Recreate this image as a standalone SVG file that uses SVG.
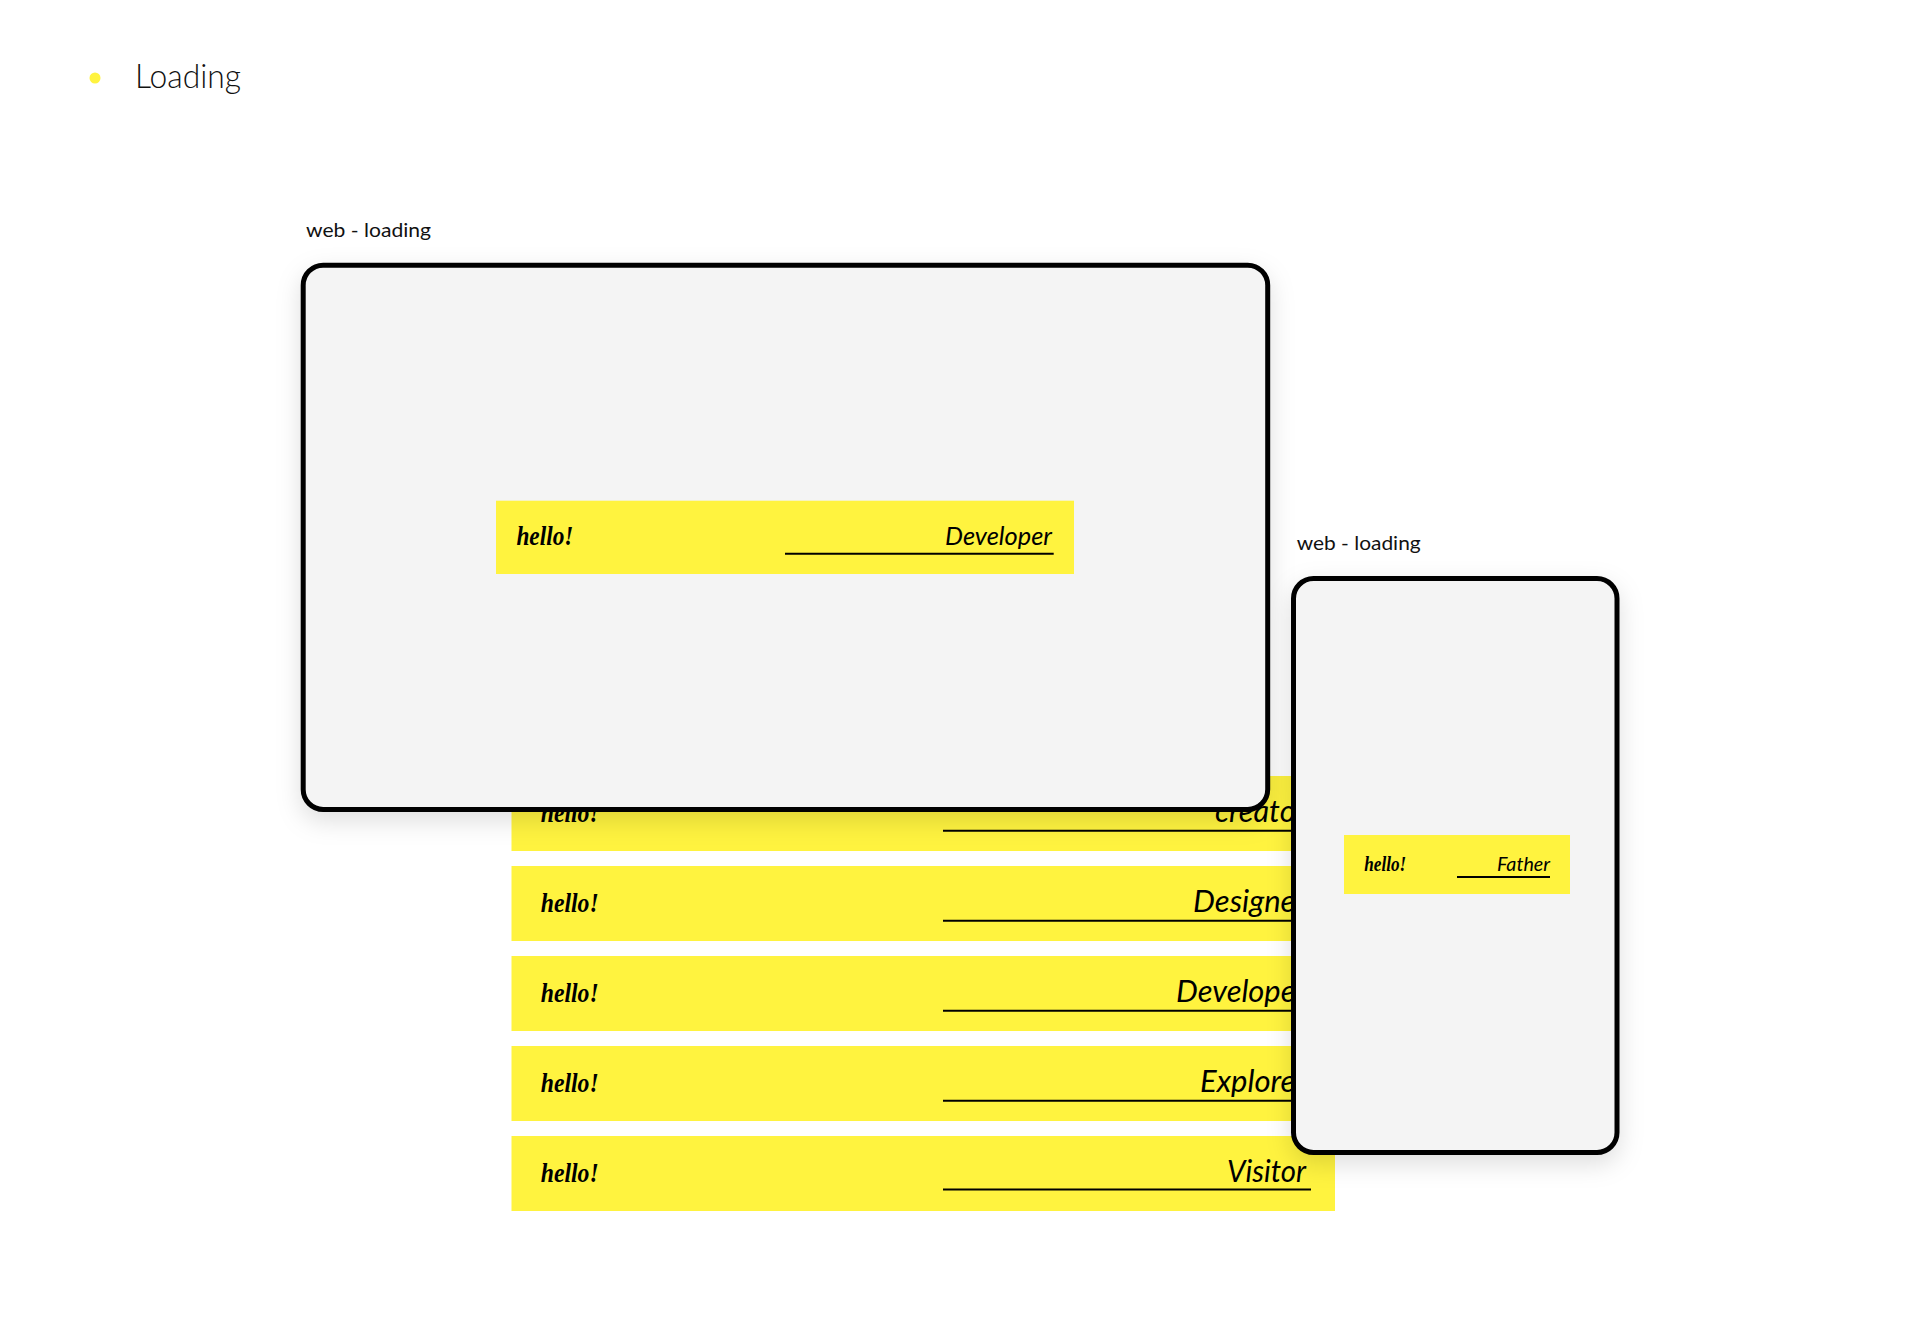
<svg xmlns="http://www.w3.org/2000/svg" width="1920" height="1340" viewBox="0 0 1920 1340">
  <defs>
    <filter id="shadow" x="-10%" y="-10%" width="120%" height="125%">
      <feDropShadow dx="0" dy="9" stdDeviation="12" flood-color="#000" flood-opacity="0.13"/>
    </filter>
  </defs>
  <style>
    .title { font-family: Lato, "Liberation Sans", sans-serif; font-weight: 300; font-size: 33px; fill: #111; }
    .label { font-family: Lato, "Liberation Sans", sans-serif; font-size: 20px; fill: #111; }
    .frame { fill: #f4f4f4; stroke: #000; stroke-width: 5; }
    .bar { fill: #fff33f; }
    .hello { font-family: "Liberation Serif", "DejaVu Serif", serif; font-style: italic; font-weight: bold; fill: #000; }
    .role { font-family: Lato, "Liberation Sans", sans-serif; font-style: italic; fill: #000; text-anchor: end; }
    .uline { stroke: #000; stroke-width: 2; fill: none; }
  </style>
  <rect width="1920" height="1340" fill="#fff"/>

  <g id="heading">
    <circle cx="95" cy="78" r="5.5" fill="#fff33f"/>
    <text class="title" x="135" y="88" textLength="106" lengthAdjust="spacingAndGlyphs">Loading</text>
  </g>

  <g id="bar-creator">
    <rect class="bar" x="511.5" y="776" width="823.5" height="75"/>
    <text class="hello" x="540.7" y="821.7" font-size="28" textLength="58" lengthAdjust="spacingAndGlyphs">hello!</text>
    <text class="role" x="1306" y="821.5" font-size="30" textLength="91" lengthAdjust="spacingAndGlyphs">creator</text>
    <line class="uline" x1="943" y1="830.7" x2="1311" y2="830.7"/>
  </g>
  <g id="bar-designer">
    <rect class="bar" x="511.5" y="866" width="823.5" height="75"/>
    <text class="hello" x="540.7" y="911.7" font-size="28" textLength="58" lengthAdjust="spacingAndGlyphs">hello!</text>
    <text class="role" x="1306" y="911.5" font-size="30" textLength="113" lengthAdjust="spacingAndGlyphs">Designer</text>
    <line class="uline" x1="943" y1="920.7" x2="1311" y2="920.7"/>
  </g>
  <g id="bar-developer">
    <rect class="bar" x="511.5" y="956" width="823.5" height="75"/>
    <text class="hello" x="540.7" y="1001.7" font-size="28" textLength="58" lengthAdjust="spacingAndGlyphs">hello!</text>
    <text class="role" x="1306" y="1001.5" font-size="30" textLength="130" lengthAdjust="spacingAndGlyphs">Developer</text>
    <line class="uline" x1="943" y1="1010.7" x2="1311" y2="1010.7"/>
  </g>
  <g id="bar-explorer">
    <rect class="bar" x="511.5" y="1046" width="823.5" height="75"/>
    <text class="hello" x="540.7" y="1091.7" font-size="28" textLength="58" lengthAdjust="spacingAndGlyphs">hello!</text>
    <text class="role" x="1306" y="1091.5" font-size="30" textLength="106" lengthAdjust="spacingAndGlyphs">Explorer</text>
    <line class="uline" x1="943" y1="1100.7" x2="1311" y2="1100.7"/>
  </g>
  <g id="bar-visitor">
    <rect class="bar" x="511.5" y="1136" width="823.5" height="75"/>
    <text class="hello" x="540.7" y="1181.7" font-size="28" textLength="58" lengthAdjust="spacingAndGlyphs">hello!</text>
    <text class="role" x="1306" y="1181.5" font-size="30" textLength="79" lengthAdjust="spacingAndGlyphs">Visitor</text>
    <line class="uline" x1="943" y1="1189.5" x2="1311" y2="1189.5"/>
  </g>

  <g id="web-frame">
    <text class="label" x="306" y="237" textLength="125" lengthAdjust="spacingAndGlyphs">web - loading</text>
    <rect class="frame" x="303.2" y="265.2" width="964.5" height="544.3" rx="20" ry="20" filter="url(#shadow)"/>
    <rect class="bar" x="496" y="500.7" width="578" height="73.3"/>
    <text class="hello" x="516.4" y="545" font-size="27" textLength="57" lengthAdjust="spacingAndGlyphs">hello!</text>
    <text class="role" x="1052" y="545" font-size="26" textLength="107" lengthAdjust="spacingAndGlyphs">Developer</text>
    <line class="uline" x1="785" y1="553.7" x2="1053.7" y2="553.7"/>
  </g>

  <g id="mobile-frame">
    <text class="label" x="1296.7" y="550" textLength="124" lengthAdjust="spacingAndGlyphs">web - loading</text>
    <rect class="frame" x="1293.5" y="578.5" width="323.5" height="574" rx="20" ry="20" filter="url(#shadow)"/>
    <rect class="bar" x="1344" y="835" width="226" height="59"/>
    <text class="hello" x="1364.3" y="871" font-size="20" textLength="42" lengthAdjust="spacingAndGlyphs">hello!</text>
    <text class="role" x="1550" y="871" font-size="19" textLength="53" lengthAdjust="spacingAndGlyphs">Father</text>
    <line class="uline" x1="1457" y1="877" x2="1550" y2="877" stroke-width="1.6"/>
  </g>
</svg>
